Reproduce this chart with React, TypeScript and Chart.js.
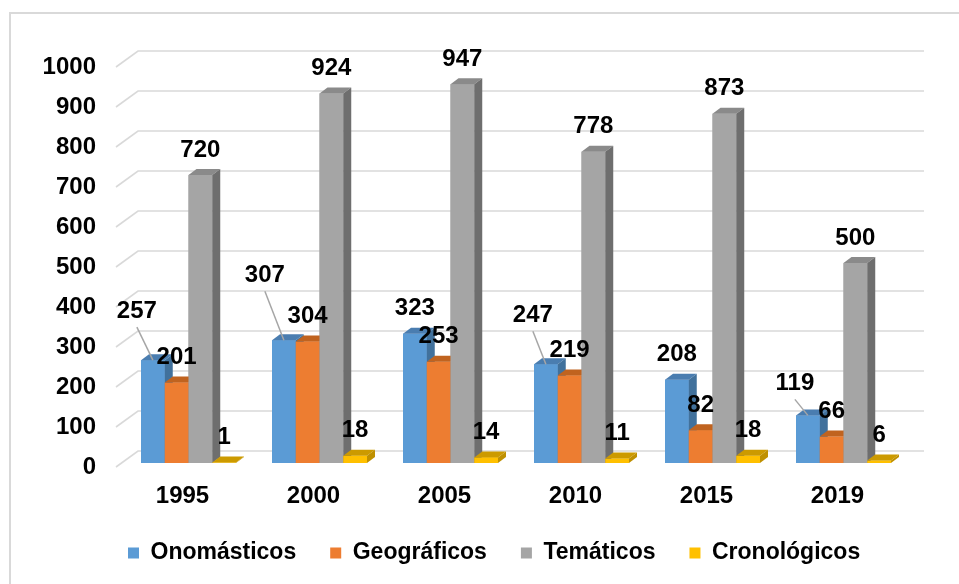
import React, { useEffect, useRef } from "react";
import { Chart, registerables } from "chart.js";

Chart.register(...registerables);

// ---------------- data ----------------
const YEARS = ["1995", "2000", "2005", "2010", "2015", "2019"];
const ONOMASTICOS = [257, 307, 323, 247, 208, 119];
const GEOGRAFICOS = [201, 304, 253, 219, 82, 66];
const TEMATICOS = [720, 924, 947, 778, 873, 500];
const CRONOLOGICOS = [1, 18, 14, 11, 18, 6];
const SERIES_NAMES = ["Onomásticos", "Geográficos", "Temáticos", "Cronológicos"];
const Y_MIN = 0;
const Y_MAX = 1000;
const Y_STEP = 100;

// ---------------- style ----------------
const FRONT = ["#5B9BD5", "#ED7D31", "#A5A5A5", "#FFC000"];
const TOPC = ["#4A7DB0", "#C0631F", "#8A8A8A", "#CC9A00"];
const SIDEC = ["#41719C", "#AE5A21", "#6E6E6E", "#BF9000"];
const FONT = "Liberation Sans, Arial, sans-serif";
const DEPTH_DX = 8;
const DEPTH_DY = -6;
const WALL_FRONT = { dx: -7, dy: 4 };
const WALL_BACK = { dx: 15, dy: -12 };
const LEGEND_START_X = 128;
// label nudges (Excel moved some Onomásticos labels, with leader lines)
const ONO_LABEL_NUDGE = [
  [-16, -24],
  [-19, -40],
  [0, 0],
  [-13, -24],
  [0, 0],
  [-13, -7],
];

const threeD = {
  id: "threeD",
  afterLayout(chart: any) {
    const lg = chart.legend;
    if (lg && lg.lineWidths) {
      const pad = lg.options.labels.padding;
      lg.left = 2 * LEGEND_START_X - pad - lg.right + lg.lineWidths[0];
    }
  },
  beforeDraw(chart: any) {
    const ctx = chart.ctx;
    ctx.save();
    ctx.fillStyle = "#FFFFFF";
    ctx.fillRect(0, 0, chart.width, chart.height);
    ctx.strokeStyle = "#D9D9D9";
    ctx.lineWidth = 2;
    ctx.strokeRect(10, 13, chart.width + 20, chart.height + 20);
    ctx.restore();
  },
  beforeDatasetsDraw(chart: any) {
    const ctx = chart.ctx;
    const ys = chart.scales.y;
    const area = chart.chartArea;
    ctx.save();
    ctx.strokeStyle = "#D9D9D9";
    ctx.lineWidth = 1.6;
    ys.ticks.forEach((t: any) => {
      const y = ys.getPixelForValue(t.value);
      ctx.beginPath();
      ctx.moveTo(area.left + WALL_FRONT.dx, y + WALL_FRONT.dy);
      ctx.lineTo(area.left + WALL_BACK.dx, y + WALL_BACK.dy);
      ctx.lineTo(area.right + WALL_BACK.dx, y + WALL_BACK.dy);
      ctx.stroke();
    });
    ctx.restore();
  },
  afterDatasetsDraw(chart: any) {
    const ctx = chart.ctx;
    const metas = chart.data.datasets.map((_: any, i: number) => chart.getDatasetMeta(i));
    const n = chart.data.labels.length;
    // redraw bars category by category, left to right, with their 3D faces
    for (let j = 0; j < n; j++) {
      metas.forEach((meta: any, i: number) => {
        const el = meta.data[j];
        if (!el) return;
        el.draw(ctx, chart.chartArea);
        const { x, y, base, width } = el.getProps(["x", "y", "base", "width"], true);
        const l = x - width / 2;
        const r = x + width / 2;
        ctx.save();
        ctx.fillStyle = TOPC[i];
        ctx.beginPath();
        ctx.moveTo(l, y);
        ctx.lineTo(l + DEPTH_DX, y + DEPTH_DY);
        ctx.lineTo(r + DEPTH_DX, y + DEPTH_DY);
        ctx.lineTo(r, y);
        ctx.closePath();
        ctx.fill();
        ctx.fillStyle = SIDEC[i];
        ctx.beginPath();
        ctx.moveTo(r, y);
        ctx.lineTo(r + DEPTH_DX, y + DEPTH_DY);
        ctx.lineTo(r + DEPTH_DX, base + DEPTH_DY);
        ctx.lineTo(r, base);
        ctx.closePath();
        ctx.fill();
        ctx.restore();
      });
    }
    // data labels
    ctx.save();
    ctx.font = `bold 24px ${FONT}`;
    ctx.fillStyle = "#000000";
    ctx.textAlign = "center";
    ctx.textBaseline = "middle";
    metas.forEach((meta: any, i: number) => {
      const data = chart.data.datasets[i].data;
      meta.data.forEach((el: any, j: number) => {
        const { x, y } = el.getProps(["x", "y"], true);
        let lx = x;
        let ly = y - 25;
        if (i === 0) {
          const [ndx, ndy] = ONO_LABEL_NUDGE[j];
          if (ndx !== 0 || ndy !== 0) {
            lx += ndx;
            ly += ndy;
            ctx.save();
            ctx.strokeStyle = "#A6A6A6";
            ctx.lineWidth = 1.5;
            ctx.beginPath();
            ctx.moveTo(lx, ly + 16);
            ctx.lineTo(x, y);
            ctx.stroke();
            ctx.restore();
          }
        }
        ctx.fillText(String(data[j]), lx, ly);
      });
    });
    ctx.restore();
  },
};

export default function App() {
  const ref = useRef<HTMLCanvasElement | null>(null);
  useEffect(() => {
    if (!ref.current) return;
    const series = [ONOMASTICOS, GEOGRAFICOS, TEMATICOS, CRONOLOGICOS];
    const chart = new Chart(ref.current, {
      type: "bar",
      data: {
        labels: YEARS,
        datasets: series.map((d, i) => ({
          label: SERIES_NAMES[i],
          data: d,
          backgroundColor: FRONT[i],
          borderWidth: 0,
          categoryPercentage: 0.725,
          barPercentage: 1,
        })),
      },
      options: {
        responsive: false,
        animation: false,
        events: [],
        devicePixelRatio: 1,
        layout: { padding: { left: 0, right: 50, top: 63, bottom: 9.5 } },
        plugins: {
          tooltip: { enabled: false },
          legend: {
            position: "bottom",
            labels: {
              boxWidth: 11,
              boxHeight: 11,
              padding: 34,
              color: "#000000",
              font: { family: FONT, size: 23, weight: "bold" },
            },
          },
        },
        scales: {
          x: {
            grid: { display: false, drawTicks: false },
            border: { display: false },
            ticks: {
              padding: 18.6,
              labelOffset: -6,
              color: "#000000",
              font: { family: FONT, size: 24, weight: "bold" },
            },
            afterFit: (s: any) => {
              s.height = 44.5;
            },
          },
          y: {
            min: Y_MIN,
            max: Y_MAX,
            grid: { display: false, drawTicks: false },
            border: { display: false },
            ticks: {
              stepSize: Y_STEP,
              padding: 27,
              labelOffset: 4,
              color: "#000000",
              font: { family: FONT, size: 24, weight: "bold" },
              callback: (v: any) => String(v),
            },
            afterFit: (s: any) => {
              s.width = 123;
            },
          },
        },
      },
      plugins: [threeD],
    });
    return () => chart.destroy();
  }, []);
  return (
    <div style={{ position: "absolute", left: 0, top: 0, width: 959, height: 584, background: "#fff" }}>
      <canvas ref={ref} width={959} height={584} style={{ display: "block" }} />
    </div>
  );
}
